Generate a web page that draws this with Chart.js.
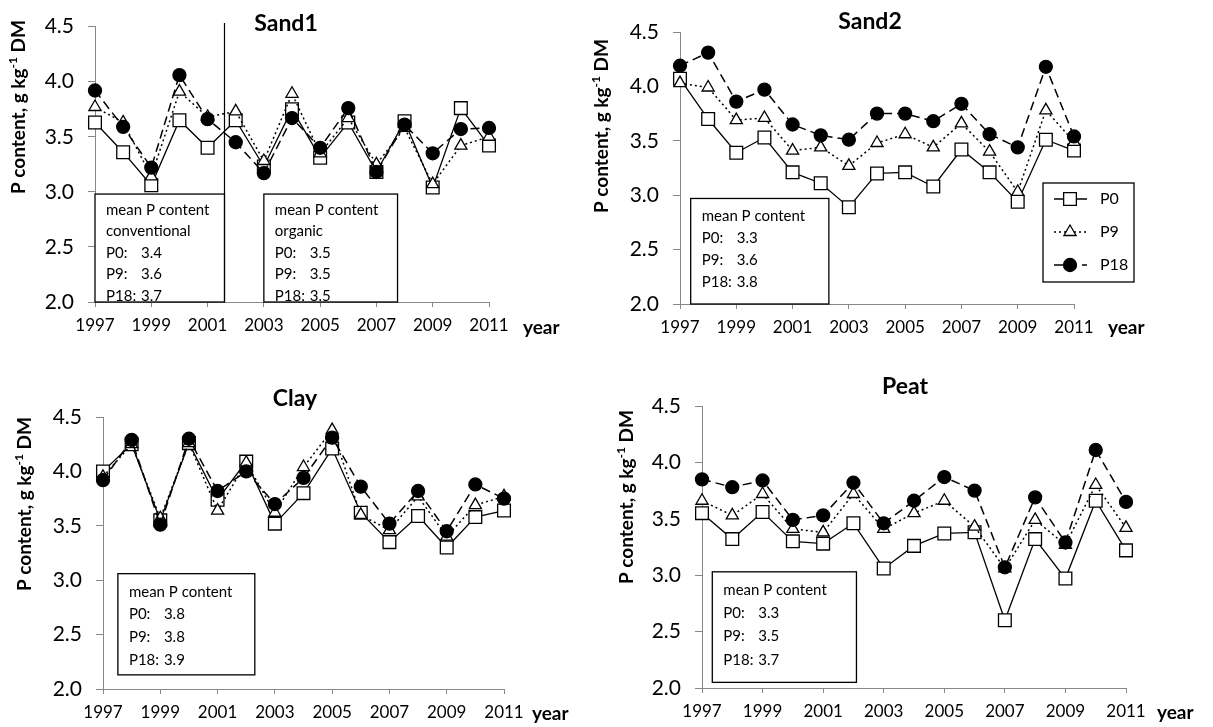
<!DOCTYPE html>
<html>
<head>
<meta charset="utf-8">
<script src="https://cdn.jsdelivr.net/npm/chart.js@4.4.1/dist/chart.umd.min.js"></script>
<style>
  body { margin: 0; background: #fff; width: 1213px; height: 727px; overflow: hidden; position: relative; }
  canvas { position: absolute; }
</style>
</head>
<body>
<canvas id="sand1" width="580" height="350" style="left:0;top:0"></canvas>
<canvas id="sand2" width="633" height="350" style="left:580px;top:0"></canvas>
<canvas id="clay" width="590" height="367" style="left:0;top:360px"></canvas>
<canvas id="peat" width="623" height="367" style="left:590px;top:360px"></canvas>
<script>
const years = [1997, 1998, 1999, 2000, 2001, 2002, 2003, 2004, 2005, 2006, 2007, 2008, 2009, 2010, 2011];
const xTickYears = [1997, 1999, 2001, 2003, 2005, 2007, 2009, 2011];
const yTicks = [2.0, 2.5, 3.0, 3.5, 4.0, 4.5];
const seriesNames = ["P0", "P9", "P18"];

const sand1P0  = [3.63, 3.36, 3.06, 3.65, 3.40, 3.65, 3.23, 3.75, 3.31, 3.63, 3.18, 3.64, 3.04, 3.76, 3.42];
const sand1P9  = [3.77, 3.63, 3.14, 3.91, 3.68, 3.73, 3.28, 3.89, 3.35, 3.67, 3.25, 3.58, 3.07, 3.42, 3.50];
const sand1P18 = [3.92, 3.59, 3.22, 4.06, 3.66, 3.45, 3.17, 3.67, 3.40, 3.76, 3.18, 3.61, 3.35, 3.57, 3.58];

const sand2P0  = [4.07, 3.70, 3.39, 3.53, 3.21, 3.11, 2.89, 3.20, 3.21, 3.08, 3.42, 3.21, 2.94, 3.51, 3.41];
const sand2P9  = [4.03, 3.99, 3.69, 3.71, 3.41, 3.44, 3.27, 3.48, 3.56, 3.44, 3.66, 3.40, 3.03, 3.78, 3.49];
const sand2P18 = [4.19, 4.31, 3.86, 3.97, 3.65, 3.55, 3.51, 3.75, 3.75, 3.68, 3.84, 3.56, 3.44, 4.18, 3.54];

const clayP0  = [4.00, 4.25, 3.55, 4.26, 3.74, 4.09, 3.52, 3.80, 4.21, 3.62, 3.35, 3.59, 3.30, 3.58, 3.64];
const clayP9  = [3.95, 4.25, 3.57, 4.26, 3.64, 4.08, 3.62, 4.04, 4.38, 3.60, 3.46, 3.77, 3.40, 3.69, 3.77];
const clayP18 = [3.92, 4.29, 3.51, 4.30, 3.82, 4.00, 3.70, 3.94, 4.31, 3.86, 3.52, 3.82, 3.45, 3.88, 3.75];

const peatP0  = [3.55, 3.32, 3.56, 3.30, 3.28, 3.46, 3.06, 3.26, 3.37, 3.38, 2.60, 3.32, 2.97, 3.66, 3.22];
const peatP9  = [3.66, 3.53, 3.72, 3.41, 3.38, 3.72, 3.41, 3.55, 3.66, 3.43, 3.06, 3.49, 3.27, 3.80, 3.42];
const peatP18 = [3.85, 3.78, 3.84, 3.49, 3.53, 3.82, 3.46, 3.66, 3.87, 3.75, 3.07, 3.69, 3.29, 4.11, 3.65];

const meanSand1Conv = ["3.4", "3.6", "3.7"];
const meanSand1Org  = ["3.5", "3.5", "3.5"];
const meanSand2 = ["3.3", "3.6", "3.8"];
const meanClay  = ["3.8", "3.8", "3.9"];
const meanPeat  = ["3.3", "3.5", "3.7"];

const FONT = "Lato, 'Open Sans', sans-serif";

// stile delle serie
const estilos = [
  { borderDash: [], pointStyle: "rect", pointRadius: 9, bg: "#fff", width: 1.3 },
  { borderDash: [2, 3], pointStyle: "triangle", pointRadius: 7, bg: "#fff", width: 1.5 },
  { borderDash: [9, 5], pointStyle: "circle", pointRadius: 6.5, bg: "#000", width: 1.5 }
];

function desenharMarcador(ctx, tipo, x, y, r, bg) {
  ctx.save();
  ctx.setLineDash([]);
  ctx.lineWidth = 1.3;
  ctx.strokeStyle = "#000";
  ctx.fillStyle = bg;
  ctx.beginPath();
  if (tipo === "rect") {
    const s = Math.SQRT1_2 * r;
    ctx.rect(x - s, y - s, 2 * s, 2 * s);
  } else if (tipo === "triangle") {
    ctx.moveTo(x, y - r);
    ctx.lineTo(x + r * 0.866, y + r * 0.5);
    ctx.lineTo(x - r * 0.866, y + r * 0.5);
    ctx.closePath();
  } else {
    ctx.arc(x, y, r, 0, Math.PI * 2);
  }
  ctx.fill();
  ctx.stroke();
  ctx.restore();
}

function desenharTituloY(ctx, cx, cy) {
  ctx.save();
  ctx.translate(cx, cy);
  ctx.rotate(-Math.PI / 2);
  ctx.fillStyle = "#000";
  ctx.textBaseline = "middle";
  ctx.textAlign = "left";
  const big = "bold 19px " + FONT, small = "bold 12px " + FONT;
  const partes = [["P content, g kg", big, 0], ["-1", small, -6], [" DM", big, 0]];
  let total = 0;
  partes.forEach(p => { ctx.font = p[1]; total += ctx.measureText(p[0]).width; });
  let x = -total / 2;
  partes.forEach(p => {
    ctx.font = p[1];
    ctx.fillText(p[0], x, p[2]);
    x += ctx.measureText(p[0]).width;
  });
  ctx.restore();
}

const decoPlugin = {
  id: "deco",
  afterDraw(chart, args, o) {
    const ctx = chart.ctx;
    const xs = chart.scales.x, ys = chart.scales.y;
    const ox = o.offset[0], oy = o.offset[1];
    ctx.save();
    ctx.fillStyle = "#000";

    // titolo
    ctx.font = "bold 23px " + FONT;
    ctx.textAlign = "center";
    ctx.textBaseline = "middle";
    ctx.fillText(o.title, o.titlePos[0] - ox, o.titlePos[1] - oy);

    // year
    ctx.font = "bold 19px " + FONT;
    ctx.textAlign = "left";
    ctx.fillText("year", o.yearPos[0] - ox, o.yearPos[1] - oy);

    desenharTituloY(ctx, o.yTitlePos[0] - ox, o.yTitlePos[1] - oy);

    // linea verticale
    if (o.vline) {
      ctx.strokeStyle = "#000";
      ctx.lineWidth = 1.2;
      ctx.beginPath();
      const vx = Math.round(xs.getPixelForValue(o.vline)) + 0.5;
      ctx.moveTo(vx, o.vlineTop - oy);
      ctx.lineTo(vx, ys.getPixelForValue(2.0));
      ctx.stroke();
    }

    // riquadri con le medie
    o.boxes.forEach(b => {
      const x0 = xs.getPixelForValue(b.x0), x1 = xs.getPixelForValue(b.x1);
      const y0 = ys.getPixelForValue(b.yTop), y1 = ys.getPixelForValue(b.yBottom);
      ctx.fillStyle = "#fff";
      ctx.fillRect(x0, y0, x1 - x0, y1 - y0);
      ctx.strokeStyle = "#000";
      ctx.lineWidth = 1.3;
      ctx.setLineDash([]);
      ctx.strokeRect(x0, y0, x1 - x0, y1 - y0);
      ctx.fillStyle = "#000";
      ctx.font = "15px " + FONT;
      ctx.textAlign = "left";
      ctx.textBaseline = "middle";
      const tx = x0 + 11;
      let i = 0;
      b.header.forEach(h => {
        ctx.fillText(h, tx, y0 + b.first + b.step * i);
        i++;
      });
      seriesNames.forEach((n, k) => {
        const ty = y0 + b.first + b.step * i;
        ctx.fillText(n + ":", tx, ty);
        ctx.fillText(b.values[k], tx + 35, ty);
        i++;
      });
    });

    // legenda
    if (o.legend) {
      const L = o.legend;
      const lx = L.x0 - ox, ly = L.y0 - oy;
      ctx.strokeStyle = "#000";
      ctx.lineWidth = 1.3;
      ctx.setLineDash([]);
      ctx.fillStyle = "#fff";
      ctx.fillRect(lx, ly, L.w, L.h);
      ctx.strokeRect(lx, ly, L.w, L.h);
      chart.data.datasets.forEach((ds, k) => {
        const st = estilos[k];
        const ey = ly + 16 + 33 * k;
        ctx.save();
        ctx.lineWidth = st.width;
        ctx.setLineDash(st.borderDash);
        ctx.beginPath();
        ctx.moveTo(lx + 11, ey);
        ctx.lineTo(lx + 44, ey);
        ctx.stroke();
        ctx.restore();
        desenharMarcador(ctx, st.pointStyle, lx + 27, ey, st.pointRadius, st.bg);
        ctx.fillStyle = "#000";
        ctx.font = "16px " + FONT;
        ctx.textAlign = "left";
        ctx.textBaseline = "middle";
        ctx.fillText(ds.label, lx + 57, ey);
      });
    }
    ctx.restore();
  }
};

function criarGrafico(id, series, area, canvasBox, deco) {
  const [cl, ct, cw, ch] = canvasBox;
  const datasets = series.map((arr, k) => {
    const st = estilos[k];
    return {
      label: seriesNames[k],
      data: years.map((yr, i) => ({ x: yr, y: arr[i] })),
      borderColor: "#000",
      borderWidth: st.width,
      borderDash: st.borderDash,
      pointStyle: st.pointStyle,
      pointRadius: st.pointRadius,
      pointBackgroundColor: st.bg,
      pointBorderColor: "#000",
      pointBorderWidth: 1.3,
      tension: 0,
      clip: false,
      order: 2 - k
    };
  });
  deco.offset = [cl, ct];
  return new Chart(document.getElementById(id), {
    type: "line",
    data: { datasets },
    options: {
      responsive: false,
      animation: false,
      layout: { padding: { left: 0, top: area.top - ct, right: cl + cw - area.right, bottom: 0 } },
      plugins: { legend: { display: false }, tooltip: { enabled: false }, deco },
      scales: {
        x: {
          type: "linear",
          min: 1997,
          max: 2011,
          afterBuildTicks: s => { s.ticks = xTickYears.map(v => ({ value: v })); },
          afterFit: s => { s.height = ct + ch - area.bottom; },
          ticks: { color: "#000", font: { family: FONT, size: 17 }, padding: 8, maxRotation: 0, callback: v => String(v) },
          grid: { drawOnChartArea: false, tickLength: 5, color: "#888" },
          border: { color: "#888", width: 1 }
        },
        y: {
          min: 2.0,
          max: 4.5,
          afterBuildTicks: s => { s.ticks = yTicks.map(v => ({ value: v })); },
          afterFit: s => { s.width = area.left - cl; },
          ticks: { color: "#000", font: { family: FONT, size: 21 }, padding: 14, callback: v => v.toFixed(1) },
          grid: { drawOnChartArea: false, tickLength: 7, color: "#888" },
          border: { color: "#888", width: 1 }
        }
      }
    },
    plugins: [decoPlugin]
  });
}

criarGrafico("sand1", [sand1P0, sand1P9, sand1P18],
  { left: 95, right: 489, top: 24, bottom: 302 }, [0, 0, 580, 350], {
    title: "Sand1", titlePos: [286, 24], yearPos: [523, 328], yTitlePos: [19, 107],
    vline: 2001.58, vlineTop: 23,
    boxes: [
      { x0: 1997, x1: 2001.6, yTop: 2.98, yBottom: 2.0, header: ["mean P content", "conventional"], values: meanSand1Conv, first: 16, step: 21.5 },
      { x0: 2003, x1: 2007.75, yTop: 2.98, yBottom: 2.0, header: ["mean P content", "organic"], values: meanSand1Org, first: 16, step: 21.5 }
    ]
  });

criarGrafico("sand2", [sand2P0, sand2P9, sand2P18],
  { left: 680, right: 1074, top: 32, bottom: 304 }, [580, 0, 633, 350], {
    title: "Sand2", titlePos: [870, 22], yearPos: [1108, 328], yTitlePos: [602, 126],
    boxes: [
      { x0: 1997.38, x1: 2002.29, yTop: 2.97, yBottom: 2.0, header: ["mean P content"], values: meanSand2, first: 18, step: 22 }
    ],
    legend: { x0: 1043, y0: 183, w: 91, h: 99 }
  });

criarGrafico("clay", [clayP0, clayP9, clayP18],
  { left: 103, right: 504, top: 417, bottom: 689 }, [0, 360, 590, 367], {
    title: "Clay", titlePos: [295, 399], yearPos: [532, 714], yTitlePos: [25, 504],
    boxes: [
      { x0: 1997.52, x1: 2002.3, yTop: 3.06, yBottom: 2.13, header: ["mean P content"], values: meanClay, first: 18, step: 22.7 }
    ]
  });

criarGrafico("peat", [peatP0, peatP9, peatP18],
  { left: 702, right: 1126, top: 406, bottom: 688 }, [590, 360, 623, 367], {
    title: "Peat", titlePos: [905, 387], yearPos: [1157, 713], yTitlePos: [627, 497],
    boxes: [
      { x0: 1997.34, x1: 2002.1, yTop: 3.03, yBottom: 2.05, header: ["mean P content"], values: meanPeat, first: 18, step: 23.3 }
    ]
  });
</script>
</body>
</html>
